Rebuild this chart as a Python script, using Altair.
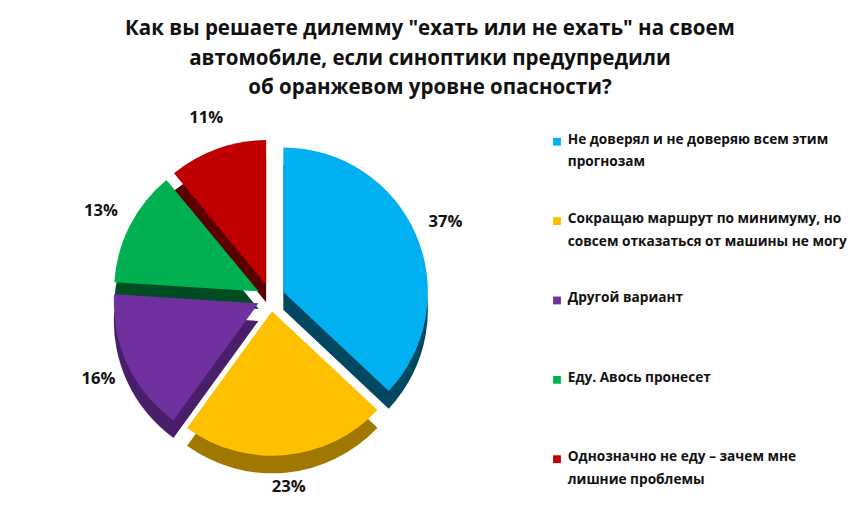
import altair as alt
import pandas as pd

CATEGORIES = [
    "Не доверял и не доверяю всем этим прогнозам",
    "Сокращаю маршрут по минимуму, но совсем отказаться от машины не могу",
    "Другой вариант",
    "Еду. Авось пронесет",
    "Однозначно не еду – зачем мне лишние проблемы",
]
LEGEND_LINES = [
    ["Не доверял и не доверяю всем этим", "прогнозам"],
    ["Сокращаю маршрут по минимуму, но", "совсем отказаться от машины не могу"],
    ["Другой вариант"],
    ["Еду. Авось пронесет"],
    ["Однозначно не еду – зачем мне", "лишние проблемы"],
]
PERCENTS = [37, 23, 16, 13, 11]
TOP_COLOURS = ["#00b0f0", "#ffc000", "#7030a0", "#00b050", "#c00000"]
SIDE_COLOURS = ["#00475f", "#a07800", "#4a1f6a", "#004d23", "#5a0000"]

TITLE = [
    'Как вы решаете дилемму "ехать или не ехать" на своем',
    "автомобиле, если синоптики предупредили",
    "об оранжевом уровне опасности?",
]

FONT = "Open Sans"
WIDTH = 528
HEIGHT = 425
EXPLODE = 14
RADIUS = 148
DEPTH = 18
PIE_SHIFT = 12  # pie centre sits a little below the panel middle

df = pd.DataFrame({
    "category": CATEGORIES,
    "value": PERCENTS,
    "order": list(range(len(CATEGORIES))),
    "side": SIDE_COLOURS,
    "lines": LEGEND_LINES,
})

colour_scale = alt.Scale(domain=CATEGORIES, range=TOP_COLOURS)

base = alt.Chart(df).transform_window(
    cum="sum(value)", sort=[{"field": "order"}]
).transform_calculate(
    start="datum.cum - datum.value",
    mid="datum.cum - datum.value / 2",
    label="datum.value + '%'",
).transform_calculate(
    ex=f"sin(datum.mid / 100 * 2 * PI) * {EXPLODE}",
    ey=f"cos(datum.mid / 100 * 2 * PI) * {EXPLODE}",
).encode(
    x=alt.X(
        "ex:Q", axis=None,
        scale=alt.Scale(domain=[-WIDTH / 2, WIDTH / 2], nice=False, zero=False),
    ),
    y=alt.Y(
        "ey:Q", axis=None,
        scale=alt.Scale(domain=[-HEIGHT / 2 + PIE_SHIFT, HEIGHT / 2 + PIE_SHIFT], nice=False, zero=False),
    ),
)

theta_scale = alt.Scale(domain=[0, 100])

side = base.mark_arc(radius=RADIUS, yOffset=DEPTH).encode(
    theta=alt.Theta("start:Q", scale=theta_scale),
    theta2="cum:Q",
    fill=alt.Fill("side:N", scale=None, legend=None),
)

top = base.mark_arc(radius=RADIUS).encode(
    theta=alt.Theta("start:Q", scale=theta_scale),
    theta2="cum:Q",
    fill=alt.Fill("category:N", scale=colour_scale, legend=None),
)

labels = base.mark_text(
    radius=RADIUS + 33, font=FONT, fontWeight="bold", fontSize=17, color="#111111"
).encode(
    theta=alt.Theta("mid:Q", scale=theta_scale),
    text="label:N",
)

pie = alt.layer(side, top, labels).resolve_scale(fill="independent").properties(
    width=WIDTH, height=HEIGHT
)

# hand-made legend so that long labels can wrap with proper spacing
legend_y = alt.Y(
    "category:N", sort=CATEGORIES, axis=None,
    scale=alt.Scale(type="point", range=[65, 390], padding=0),
)
legend_base = alt.Chart(df).encode(y=legend_y)

legend_marks = legend_base.mark_square(size=64, opacity=1).encode(
    x=alt.value(9),
    color=alt.Color("category:N", scale=colour_scale, legend=None),
)

legend_text = legend_base.mark_text(
    align="left", baseline="top", dy=-9, font=FONT, fontWeight="bold",
    fontSize=14, lineHeight=23, color="#111111",
).encode(
    x=alt.value(20),
    text="lines",
)

legend = alt.layer(legend_marks, legend_text).properties(width=270, height=HEIGHT)

chart = alt.hconcat(pie, legend, spacing=20).properties(
    background="white",
    title=alt.TitleParams(
        TITLE,
        font=FONT,
        fontSize=21,
        fontWeight="bold",
        lineHeight=30,
        color="#111111",
        anchor="middle",
        dy=-8,
        offset=-28,
    ),
).configure_view(stroke=None)

chart.save("out.html", embed_options={"renderer": "svg", "actions": False})
